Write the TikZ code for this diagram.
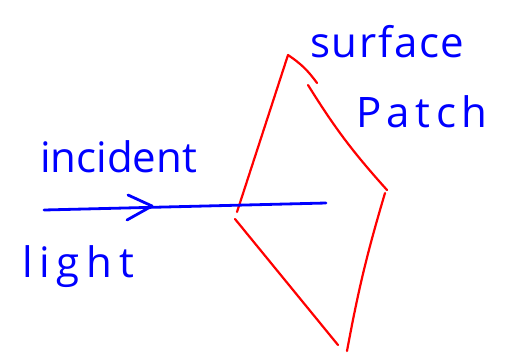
\documentclass[tikz,border=0pt]{standalone}
\usepackage{fontspec}
\setsansfont{Open Sans}
\usepackage{xcolor}
\usepackage{tikz}

\begin{document}
\begin{tikzpicture}[x=1pt,y=-1pt,
  ink/.style={blue,anchor=base west,inner sep=0pt,font=\sffamily\fontsize{42}{42}\selectfont},
  ray/.style={blue,line width=2.8pt,line cap=round,line join=round},
  rim/.style={red,line width=2.2pt,line cap=round,line join=round}]
\useasboundingbox (0,0) rectangle (506,357);
\coordinate (top) at (288,55);
\coordinate (lft) at (235,219);
\coordinate (rgt) at (387,190);
\coordinate (bot) at (347,351);
\draw[rim] (top) -- (237,212);
\draw[rim] (lft) -- (338,345);
\draw[rim] (top) to[bend left=10] (317,83);
\draw[rim] (308,85) to[bend right=5] (rgt);
\draw[rim] (385,193) to[bend right=3] (bot);
\coordinate (src) at (44,210);
\coordinate (hit) at (326,203);
\coordinate (tip) at (152,206);
\draw[ray] (src) -- (hit);
\draw[ray] (tip) ++(-24,-11) -- (tip) -- ++(-25,14);
\node[ink] (inc) at (40,172) {incident};
\node[ink] (lgt) at (22,277) {\addfontfeature{LetterSpace=16}light};
\node[ink] (srf) at (310,57) {\addfontfeature{LetterSpace=4}surface};
\node[ink] (pat) at (356,127) {\addfontfeature{LetterSpace=13}Patch};
\end{tikzpicture}
\end{document}
